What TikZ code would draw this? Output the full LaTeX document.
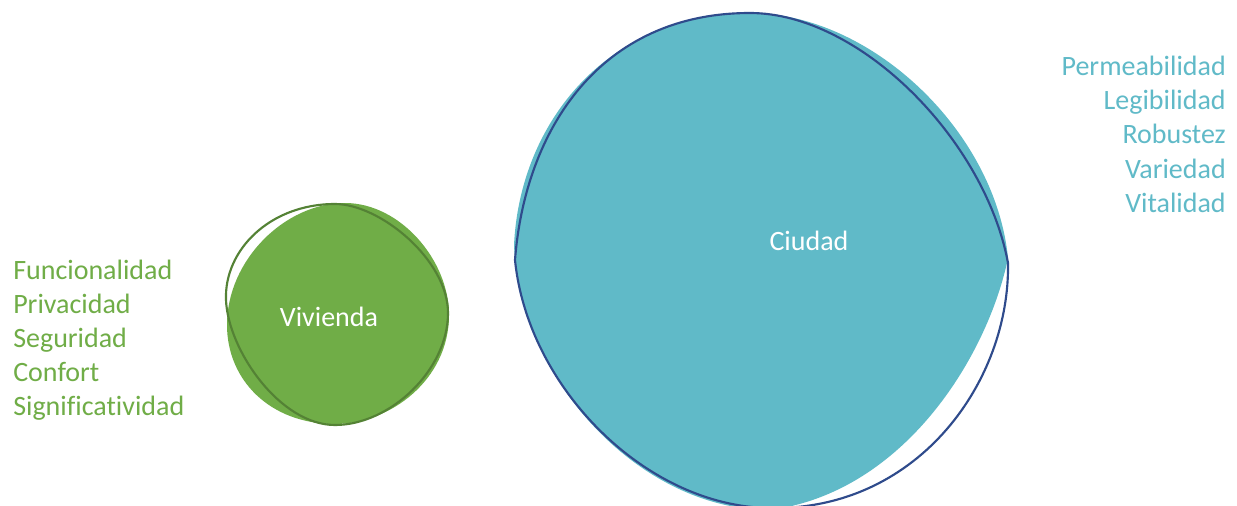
\documentclass[tikz,border=0pt]{standalone}
\usepackage{fontspec}
\setmainfont{Carlito}[Ligatures={NoCommon}]
\definecolor{vgreen}{HTML}{70AD47}
\definecolor{vgreendark}{HTML}{548235}
\definecolor{cblue}{HTML}{60BAC8}
\definecolor{cbluedark}{HTML}{2F4B8C}
\tikzset{
  lbl/.style={font=\fontsize{21}{25.5}\selectfont, inner sep=0pt},
  greentxt/.style={lbl, text=vgreen, anchor=base west},
  bluetxt/.style={lbl, text=cblue, anchor=base east},
  whitetxt/.style={lbl, text=white, anchor=base},
  blobline/.style={line width=1.6pt, line join=round},
}
\begin{document}
\begin{tikzpicture}[x=0.75pt,y=-0.75pt]
\useasboundingbox (0,0) rectangle (1237,506);
\fill[white] (0,0) rectangle (1237,506);
\begin{scope}
\clip (0,0) rectangle (1237,506);
% Vivienda fill
\fill[vgreen] (345,203) .. controls (400,203) and (449,260) .. (449,315)
  .. controls (449,380) and (390,424) .. (335,424)
  .. controls (270,424) and (227,380) .. (227,325)
  .. controls (227,260) and (285,203) .. cycle;
% Vivienda outline
\draw[vgreendark, blobline] (226,300) .. controls (224,250) and (270,204) .. (335,204)
  .. controls (380,204) and (448,260) .. (448,313)
  .. controls (448,370) and (390,425) .. (335,425)
  .. controls (280,425) and (228,350) .. cycle;
% Ciudad fill
\fill[cblue] (514,245) .. controls (520,120) and (610,13) .. (750,13)
  .. controls (870,13) and (995,130) .. (1008,258)
  .. controls (988,355) and (905,492) .. (770,510)
  .. controls (640,510) and (520,380) .. cycle;
% Ciudad outline
\draw[cbluedark, blobline] (515,260) .. controls (525,130) and (600,13) .. (750,13)
  .. controls (860,13) and (985,140) .. (1008,263)
  .. controls (1010,380) and (920,508) .. (775,508)
  .. controls (650,510) and (528,390) .. cycle;
\end{scope}
% labels inside
\node[whitetxt] (viv) at (329,326) {Vivienda};
\node[whitetxt] (ciu) at (809,250) {Ciudad};
% left list
\node[greentxt] (l1) at (13,279) {Funcionalidad};
\node[greentxt] (l2) at (13,313) {Privacidad};
\node[greentxt] (l3) at (13,347) {Seguridad};
\node[greentxt] (l4) at (13,381) {Confort};
\node[greentxt] (l5) at (13,415) {Significatividad};
% right list
\node[bluetxt] (r1) at (1226,76) {Permeabilidad};
\node[bluetxt] (r2) at (1226,110) {Legibilidad};
\node[bluetxt] (r3) at (1226,144) {Robustez};
\node[bluetxt] (r4) at (1226,178) {Variedad};
\node[bluetxt] (r5) at (1226,212) {Vitalidad};
\end{tikzpicture}
\end{document}
